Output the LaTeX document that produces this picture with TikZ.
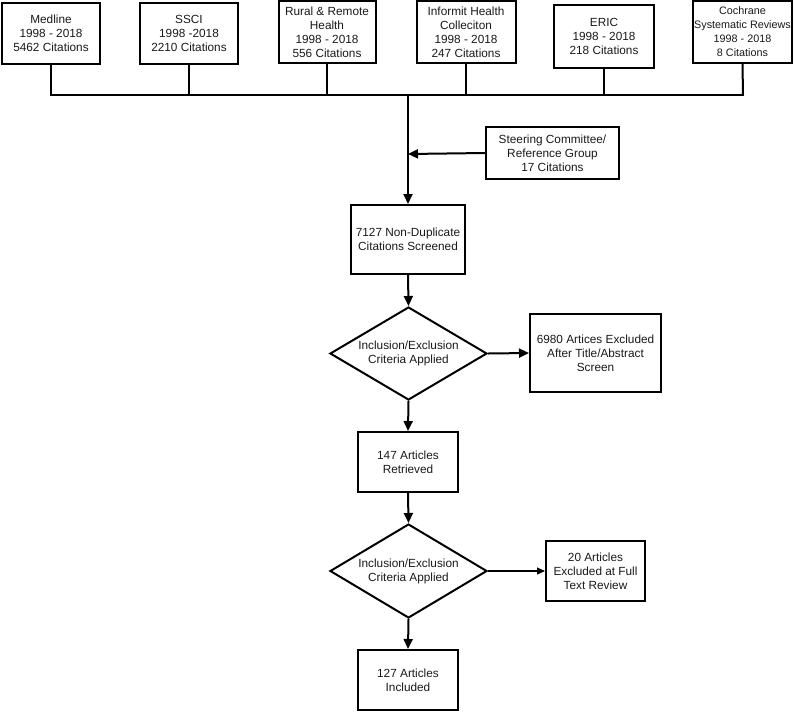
\documentclass[tikz,border=0pt]{standalone}
\usepackage{fontspec}
\setmainfont{Liberation Sans}
\usetikzlibrary{shapes.geometric,arrows.meta}
\begin{document}
\begin{tikzpicture}[x=1pt,y=-1pt,
  box/.style={draw, line width=2pt, rectangle, inner sep=0pt, align=center,
    font=\fontsize{11.8}{14}\selectfont, text=black!90},
  dia/.style={draw, line width=2pt, diamond, inner sep=0pt, align=center,
    font=\fontsize{11.8}{14}\selectfont, text=black!90},
  ln/.style={line width=2pt},
  arr/.style={line width=2pt, -{Triangle[length=10pt,width=9pt]}},
  thinarr/.style={line width=1.1pt, -{Triangle[length=8pt,width=7pt]}}]
\useasboundingbox (0,0) rectangle (795,713);
% top sources
\node[box, minimum width=98pt, minimum height=61pt] (medline) at (51,33) {Medline\\1998 - 2018\\5462 Citations};
\node[box, minimum width=98pt, minimum height=61pt] (ssci) at (189,33) {SSCI\\1998 -2018\\2210 Citations};
\node[box, minimum width=97pt, minimum height=62pt] (rural) at (327,32) {Rural \& Remote\\Health\\1998 - 2018\\556 Citations};
\node[box, minimum width=99pt, minimum height=62pt] (informit) at (466,32) {Informit Health\\Colleciton\\1998 - 2018\\247 Citations};
\node[box, minimum width=100pt, minimum height=63pt] (eric) at (604,36.5) {ERIC\\1998 - 2018\\218 Citations};
\node[box, minimum width=99pt, minimum height=62pt, font=\fontsize{10.8}{14}\selectfont] (cochrane) at (742.5,32) {Cochrane\\Systematic Reviews\\1998 - 2018\\8 Citations};
% bus
\coordinate (busL) at (51,95);
\coordinate (busR) at (743,95);
\coordinate (busM) at (408,95);
\coordinate (join) at (408,154);
\draw[ln] (medline.south) -- (busL);
\draw[ln] (ssci.south) -- (ssci.south |- busL);
\draw[ln] (rural.south) -- (rural.south |- busL);
\draw[ln] (informit.south) -- (informit.south |- busL);
\draw[ln] (eric.south) -- (eric.south |- busL);
\draw[ln] (cochrane.south) -- (busR);
\draw[ln, line cap=rect] (busL) -- (busR);
% steering
\node[box, minimum width=133pt, minimum height=52pt] (steer) at (552.5,153) {Steering Committee/\\Reference Group\\17 Citations};
\node[box, minimum width=114pt, minimum height=69pt] (screen) at (408,239.5) {7127 Non-Duplicate\\Citations Screened};
\draw[arr] (busM) -- (screen.north);
\draw[arr] (steer.west) -- (join);
% first decision
\node[dia, minimum width=157pt, minimum height=93pt, aspect=1.69] (d1) at (408.5,353.5) {Inclusion/Exclusion\\Criteria Applied};
\node[box, minimum width=131pt, minimum height=78pt] (ex1) at (595.5,353) {6980 Artices Excluded\\After Title/Abstract\\Screen};
\draw[arr] (screen.south) -- (d1.north);
\draw[arr] (d1.east) -- (ex1.west);
\node[box, minimum width=100pt, minimum height=60pt] (ret) at (408,462) {147 Articles\\Retrieved};
\draw[arr] (d1.south) -- (ret.north);
% second decision
\node[dia, minimum width=157pt, minimum height=94pt, aspect=1.67] (d2) at (408.5,571) {Inclusion/Exclusion\\Criteria Applied};
\node[box, minimum width=99pt, minimum height=60pt] (ex2) at (595.5,571) {20 Articles\\Excluded at Full\\Text Review};
\draw[arr] (ret.south) -- (d2.north);
\draw[thinarr] (d2.east) -- (ex2.west);
\node[box, minimum width=100pt, minimum height=60pt] (inc) at (408,680) {127 Articles\\Included};
\draw[arr] (d2.south) -- (inc.north);
\end{tikzpicture}
\end{document}
